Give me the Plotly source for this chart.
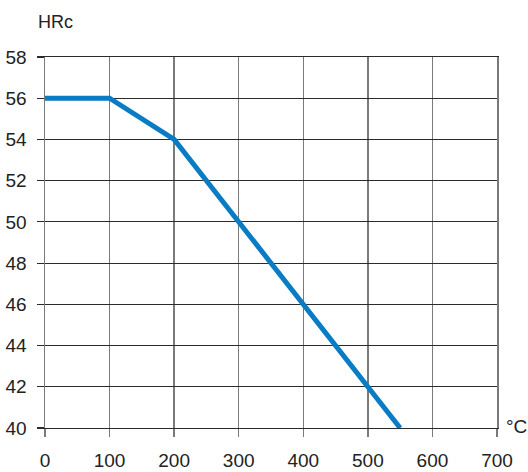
import plotly.graph_objects as go

temps = [0, 100, 200, 300, 400, 500, 550]
hardness = [56, 56, 54, 50, 46, 42, 40]
x_ticks = [0, 100, 200, 300, 400, 500, 600, 700]
y_ticks = [40, 42, 44, 46, 48, 50, 52, 54, 56, 58]

FAM = "Liberation Sans Narrow, Arial Narrow, Liberation Sans, Arial, sans-serif"
font = dict(family=FAM, size=19, color="#222222")
GRAY = "#7a7a7a"
DARK = "#2b2b2b"

fig = go.Figure()
fig.add_trace(go.Scatter(x=temps, y=hardness, mode="lines",
                         line=dict(color="#0a7cc4", width=5), cliponaxis=False,
                         hoverinfo="skip"))

L, R, T, B = 45, 31, 57, 44
fig.update_layout(
    width=528, height=472,
    margin=dict(l=L, r=R, t=T, b=B),
    paper_bgcolor="white", plot_bgcolor="white",
    showlegend=False,
    font=font,
    xaxis=dict(range=[0, 700], tickvals=x_ticks, ticktext=[str(v) for v in x_ticks],
               showgrid=True, gridcolor=GRAY, gridwidth=1.5,
               ticks="outside", ticklen=8, tickcolor=GRAY, tickwidth=1.5,
               showline=True, linecolor=DARK, linewidth=1.2, mirror=True,
               zeroline=False, automargin=False, ticklabelstandoff=7),
    yaxis=dict(range=[40, 58], tickvals=y_ticks, ticktext=[str(v) for v in y_ticks],
               showgrid=True, gridcolor=DARK, gridwidth=1.2,
               ticks="outside", ticklen=7, tickcolor=DARK, tickwidth=1.2,
               showline=True, linecolor=GRAY, linewidth=1.5, mirror=True,
               zeroline=False, automargin=False, ticklabelstandoff=6),
)

pw = 528 - L - R
ph = 472 - T - B
def to_paper(px, py):
    return (px - L) / pw, 1 - (py - T) / ph

for text, px, py, size in [("HRc", 55, 22, 18), ("°C", 516, 426, 19)]:
    xp, yp = to_paper(px, py)
    fig.add_annotation(text=text, x=xp, y=yp, xref="paper", yref="paper",
                       showarrow=False, xanchor="center", yanchor="middle",
                       font=dict(family=FAM, size=size, color="#222222"))

fig.write_html("out.html",
               config={"displayModeBar": False, "staticPlot": True},
               post_script="document.body.style.margin='0';document.body.style.padding='0';document.body.style.overflow='hidden';")
